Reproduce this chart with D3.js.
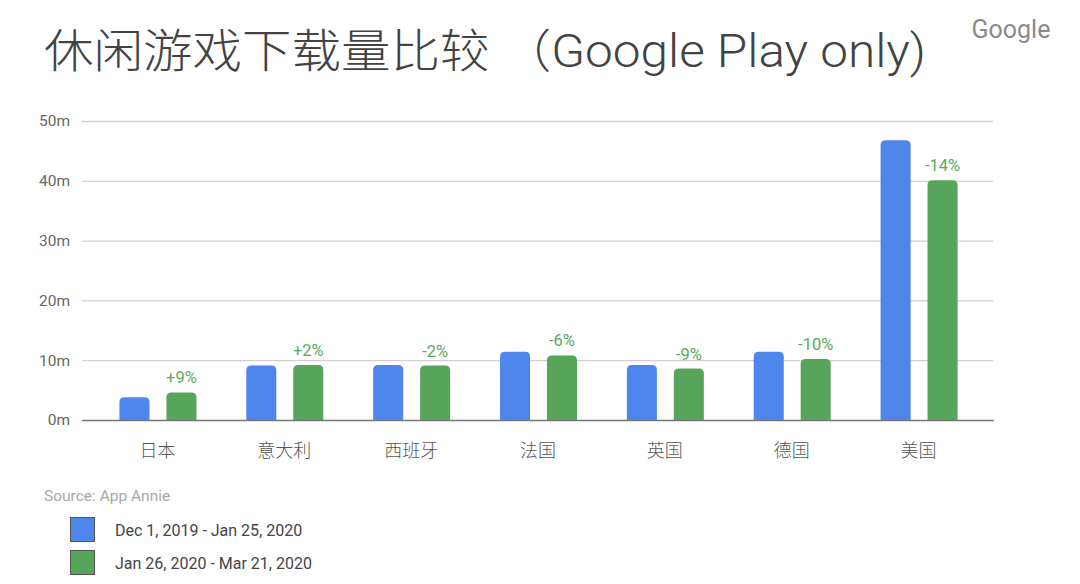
<!DOCTYPE html>
<html><head><meta charset="utf-8">
<script src="https://cdn.jsdelivr.net/npm/d3@7"></script>
<style>
body{margin:0;background:#fff;}
svg{display:block;}
text{font-family:Roboto,"Noto Sans CJK SC",sans-serif;}
</style></head>
<body><svg id="c" width="1080" height="584"></svg>
<script>
const categories = ["日本","意大利","西班牙","法国","英国","德国","美国"];
const seriesNames = ["Dec 1, 2019 - Jan 25, 2020","Jan 26, 2020 - Mar 21, 2020"];
const period1 = [3.8, 9.1, 9.2, 11.4, 9.2, 11.4, 46.8];
const period2 = [4.6, 9.2, 9.1, 10.8, 8.6, 10.2, 40.1];
const changeLabels = ["+9%","+2%","-2%","-6%","-9%","-10%","-14%"];
const yTicks = [0,10,20,30,40,50];
const colors = ["#4f86ec","#57a55a"];

const svg = d3.select("#c");
const mLeft = 82, mRight = 994, mTop = 121, mBottom = 420;

const x = d3.scaleBand().domain(categories).range([94, 982]).paddingInner(0).paddingOuter(0);
const x1 = d3.scaleBand().domain([0,1]).range([x.bandwidth()/2-38, x.bandwidth()/2+39]).paddingInner(0.36);
const y = d3.scaleLinear().domain([0,50]).range([mBottom, mTop]);

// gridlines
svg.append("g").selectAll("line").data(yTicks.filter(d=>d>0)).join("line")
  .attr("x1", mLeft).attr("x2", mRight-1)
  .attr("y1", d=>y(d)+0.5).attr("y2", d=>y(d)+0.5)
  .attr("stroke","#d0d0d0").attr("stroke-width",1.3);

// y axis labels
const yAxis = d3.axisLeft(y).tickValues(yTicks).tickFormat(d=>d+"m").tickSize(0).tickPadding(12);
const ya = svg.append("g").attr("transform",`translate(${mLeft},0)`).call(yAxis);
ya.select(".domain").remove();
ya.selectAll("text").attr("font-size",15.5).attr("fill","#666").attr("font-family","Roboto, sans-serif");

// bars
function barPath(x0, w, yt, yb, r){
  r = Math.min(r, (yb-yt), w/2);
  return `M${x0},${yb}V${yt+r}Q${x0},${yt} ${x0+r},${yt}H${x0+w-r}Q${x0+w},${yt} ${x0+w},${yt+r}V${yb}Z`;
}
const data = categories.map((c,i)=>({c, v:[period1[i], period2[i]], lab: changeLabels[i]}));
const g = svg.append("g").selectAll("g").data(data).join("g")
  .attr("transform", d=>`translate(${x(d.c)},0)`);
g.selectAll("path").data(d=>d.v.map((v,k)=>({v,k}))).join("path")
  .attr("d", d=>barPath(x1(d.k), x1.bandwidth(), y(d.v), y(0), 5))
  .attr("fill", d=>colors[d.k]);
g.append("text")
  .attr("x", x1(1)+x1.bandwidth()/2)
  .attr("y", d=>y(d.v[1])-9)
  .attr("text-anchor","middle").attr("font-size",16.5).attr("fill","#5aab5d")
  .text(d=>d.lab);

// baseline
svg.append("line").attr("x1",mLeft).attr("x2",mRight).attr("y1",mBottom+0.5).attr("y2",mBottom+0.5)
  .attr("stroke","#777").attr("stroke-width",1.5);

// x axis labels
const xAxis = d3.axisBottom(x).tickSize(0).tickPadding(24);
const xa = svg.append("g").attr("transform",`translate(0,${mBottom})`).call(xAxis);
xa.select(".domain").remove();
xa.selectAll("text").attr("font-size",18).attr("fill","#555").attr("font-family","'Noto Sans CJK SC', sans-serif").attr("font-weight",300);

// title
svg.append("text").attr("x",44).attr("y",67).attr("font-size",46).attr("fill","#434343")
  .attr("font-family","'Noto Sans CJK SC', sans-serif").attr("font-weight",300)
  .attr("textLength",882).attr("lengthAdjust","spacingAndGlyphs")
  .text("休闲游戏下载量比较 （Google Play only)");

// Google mark
svg.append("text").attr("x",1011).attr("y",38).attr("text-anchor","middle")
  .attr("font-size",25).attr("fill","#8a8a8a").attr("font-family","'Open Sans', sans-serif")
  .text("Google");

// source
svg.append("text").attr("x",44).attr("y",501).attr("font-size",15.5).attr("fill","#a8a8a8")
  .text("Source: App Annie");

// legend
const lg = svg.append("g").selectAll("g").data(seriesNames).join("g")
  .attr("transform",(d,i)=>`translate(70,${517+i*33})`);
lg.append("rect").attr("x",0.5).attr("y",0.5).attr("width",24).attr("height",24)
  .attr("fill",(d,i)=>colors[i]).attr("stroke","#555").attr("stroke-width",1);
lg.append("text").attr("x",45).attr("y",19).attr("font-size",16).attr("fill","#444").text(d=>d);
</script></body></html>
